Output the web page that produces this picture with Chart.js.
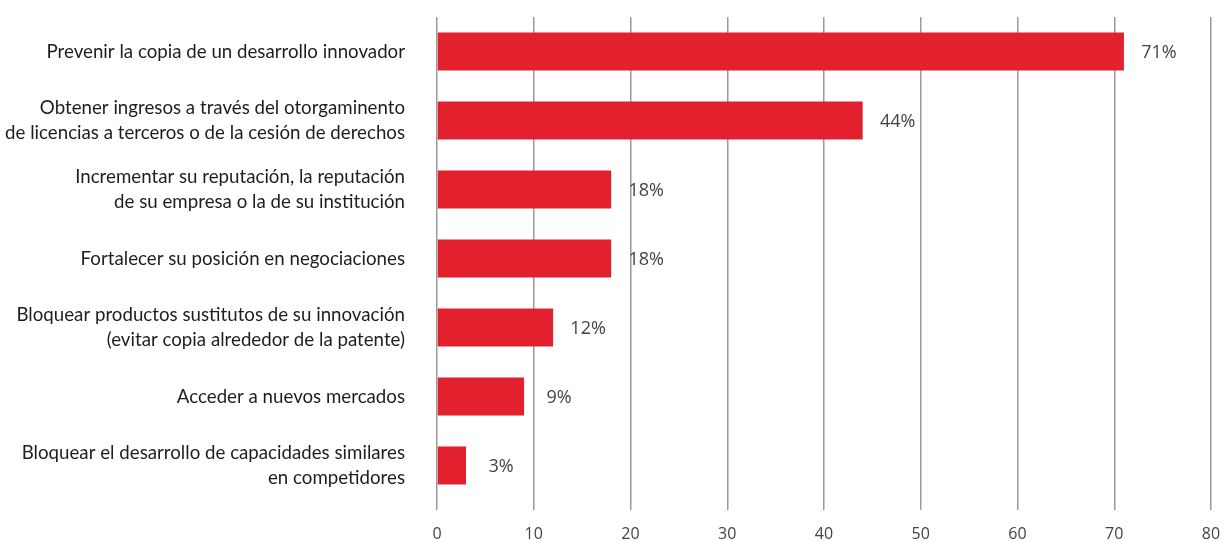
<!DOCTYPE html>
<html>
<head>
<meta charset="utf-8">
<script src="https://cdn.jsdelivr.net/npm/chart.js@4"></script>
<style>
  html, body { margin: 0; padding: 0; background: #ffffff; }
  #wrap { width: 1225px; height: 541px; }
</style>
</head>
<body>
<div id="wrap"><canvas id="motivosChart"></canvas></div>
<script>
// Motivos para patentar (% de respuestas)
const categories = [
    'Prevenir la copia de un desarrollo innovador',
    ['Obtener ingresos a través del otorgaminento', 'de licencias a terceros o de la cesión de derechos'],
    ['Incrementar su reputación, la reputación', 'de su empresa o la de su institución'],
    'Fortalecer su posición en negociaciones',
    ['Bloquear productos sustitutos de su innovación', '(evitar copia alrededor de la patente)'],
    'Acceder a nuevos mercados',
    ['Bloquear el desarrollo de capacidades similares', 'en competidores']
];
const values = [71, 44, 18, 18, 12, 9, 3];
const xTicks = [0, 10, 20, 30, 40, 50, 60, 70, 80];

const BAR_RED = '#e3202e';
const GRID_GRAY = '#9a9a9a';

// Percentage label to the right of each bar
const valueLabels = {
    id: 'valueLabels',
    afterDatasetsDraw(chart) {
        const ctx = chart.ctx;
        const meta = chart.getDatasetMeta(0);
        ctx.save();
        ctx.font = '18px "Open Sans"';
        ctx.fillStyle = '#444444';
        ctx.textAlign = 'center';
        ctx.textBaseline = 'middle';
        meta.data.forEach((bar, i) => {
            ctx.fillText(values[i] + '%', bar.x + 35, bar.y + 1);
        });
        ctx.restore();
    }
};

const ctx = document.getElementById('motivosChart').getContext('2d');
new Chart(ctx, {
    type: 'bar',
    data: {
        labels: categories,
        datasets: [{
            data: values,
            backgroundColor: BAR_RED,
            borderWidth: 0,
            barPercentage: 0.55,
            categoryPercentage: 1
        }]
    },
    options: {
        indexAxis: 'y',
        responsive: true,
        maintainAspectRatio: false,
        animation: false,
        layout: { padding: { top: 17, right: 14, left: 0, bottom: 0 } },
        plugins: {
            legend: { display: false },
            tooltip: { enabled: false }
        },
        scales: {
            x: {
                min: 0,
                max: 80,
                afterBuildTicks: (scale) => {
                    scale.ticks = xTicks.map(v => ({ value: v }));
                },
                afterFit: (scale) => {
                    scale.height = 41;
                    scale.paddingLeft = 0;
                    scale.paddingRight = 0;
                },
                border: { display: false },
                grid: {
                    color: GRID_GRAY,
                    lineWidth: 1.5,
                    drawTicks: true,
                    tickLength: 10
                },
                ticks: {
                    color: '#444444',
                    font: { family: 'Open Sans', size: 16 },
                    padding: 15,
                    maxRotation: 0
                }
            },
            y: {
                afterFit: (scale) => {
                    scale.width = 437;
                    scale.paddingTop = 0;
                    scale.paddingBottom = 0;
                },
                border: { display: false },
                grid: { display: false, drawTicks: false },
                ticks: {
                    color: '#1e1e1e',
                    font: { family: 'Lato', size: 18.7, lineHeight: 1.33 },
                    padding: 32
                }
            }
        }
    },
    plugins: [valueLabels]
});
</script>
</body>
</html>
